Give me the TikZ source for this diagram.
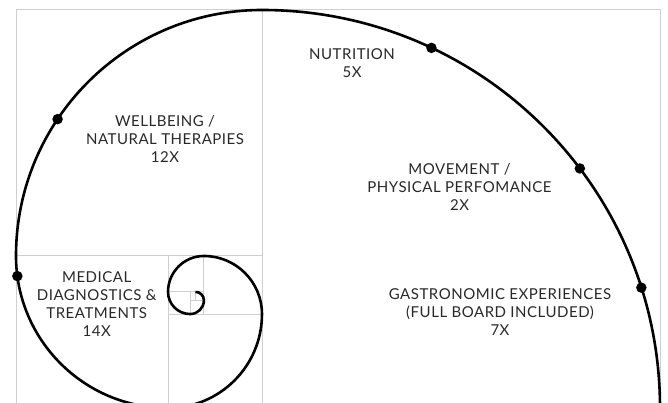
\documentclass[tikz,border=0pt]{standalone}
\usepackage{fontspec}
\setmainfont{Lato}[LetterSpace=3.5]
\usepackage{tikz}

\definecolor{fibgray}{RGB}{205,209,204}
\definecolor{textgray}{RGB}{40,40,40}

\begin{document}
\begin{tikzpicture}[x=1pt,y=1pt,
		fibline/.style={draw=fibgray,line width=1pt},
		spiralline/.style={draw=black,line width=2.6pt},
		spiraldot/.style={circle,fill=black,inner sep=0pt,minimum size=10.5pt},
		areatext/.style={align=center,text=textgray,font=\fontsize{15}{18}\selectfont}]
		\clip (0,0) rectangle (668,403);
		\coordinate (c1) at (262,-5);
		\coordinate (c2) at (262,147);
		\coordinate (c3) at (168.02,147);
		\draw[fibline] (16,-5) rectangle (660,393);
		\draw[fibline] (262,-5) -- (262,393);
		\draw[fibline] (16,147) -- (262,147);
		\draw[fibline] (168.02,147) -- (168.02,-5);
		\draw[fibline] (168.02,88.96) -- (262,88.96);
		\draw[fibline] (203.93,147) -- (203.93,88.96);
		\draw[fibline] (168.02,111.11) -- (203.93,111.11);
		\draw[fibline] (190.2,111.11) -- (190.2,88.96);
		\draw[fibline] (190.2,102.67) -- (203.93,102.67);
		\draw[fibline] (195.46,111.11) -- (195.46,102.67);
		\draw[spiralline] (660,-5)
			arc[start angle=0,end angle=90,radius=398pt]
			arc[start angle=90,end angle=180,radius=246pt]
			arc[start angle=180,end angle=270,radius=152.02pt]
			arc[start angle=270,end angle=360,radius=93.96pt]
			arc[start angle=0,end angle=90,radius=58.07pt]
			arc[start angle=90,end angle=180,radius=35.89pt]
			arc[start angle=180,end angle=270,radius=22.18pt]
			arc[start angle=270,end angle=360,radius=13.71pt]
			arc[start angle=0,end angle=90,radius=8.47pt];
		\node[spiraldot] (wellbeing) at ([shift={(146.2:246)}]c2) {};
		\node[spiraldot] (medical) at ([shift={(187.6:152.02)}]c3) {};
		\node[spiraldot] (nutrition) at ([shift={(64.8:398)}]c1) {};
		\node[spiraldot] (movement) at ([shift={(37:398)}]c1) {};
		\node[spiraldot] (gastro) at ([shift={(17.6:398)}]c1) {};
		\node[areatext] (wellbeingtext) at (165,263.8) {WELLBEING /\\NATURAL THERAPIES\\12X};
		\node[areatext] (nutritiontext) at (352,339.5) {NUTRITION\\5X};
		\node[areatext] (movementtext) at (459.5,215.7) {MOVEMENT /\\PHYSICAL PERFOMANCE\\2X};
		\node[areatext] (gastrotext) at (500,91.3) {GASTRONOMIC EXPERIENCES\\(FULL BOARD INCLUDED)\\7X};
		\node[areatext] (medicaltext) at (96.7,98.7) {MEDICAL\\DIAGNOSTICS \&\\TREATMENTS\\14X};
	\end{tikzpicture}
\end{document}
